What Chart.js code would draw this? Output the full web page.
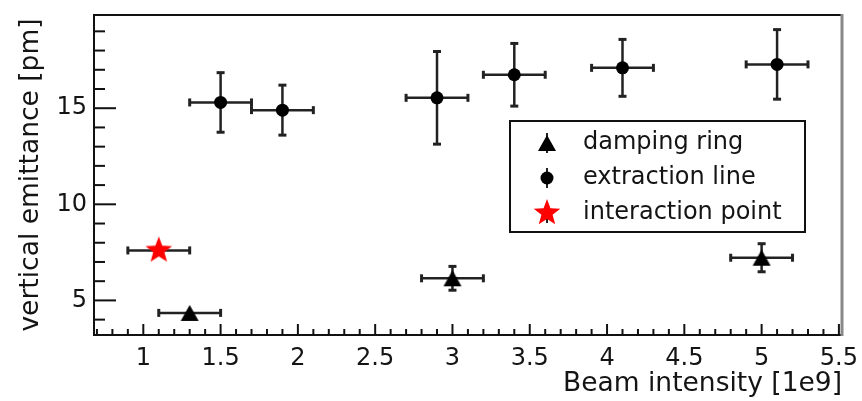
<!DOCTYPE html>
<html>
<head>
<meta charset="utf-8">
<script src="https://cdn.jsdelivr.net/npm/chart.js@4.4.1/dist/chart.umd.min.js"></script>
<style>
html, body { margin: 0; padding: 0; background: #fff; }
canvas { display: block; }
</style>
</head>
<body>
<canvas id="chart" width="862" height="401"></canvas>
<script>
// Damping ring
const drX = [1.3, 3.0, 5.0];
const drY = [4.35, 6.15, 7.22];
const drEX = [0.2, 0.2, 0.2];
const drEY = [0.15, 0.62, 0.73];

// Extraction line
const elX = [1.5, 1.9, 2.9, 3.4, 4.1, 5.1];
const elY = [15.3, 14.9, 15.54, 16.74, 17.1, 17.28];
const elEX = [0.2, 0.2, 0.2, 0.2, 0.2, 0.2];
const elEY = [1.55, 1.3, 2.41, 1.63, 1.48, 1.81];

// Interaction point
const ipX = [1.1];
const ipY = [7.6];
const ipEX = [0.2];
const ipEY = [0.3];

const seriesLabels = ['damping ring', 'extraction line', 'interaction point'];

// Axis ranges and tick steps
const xRange = [0.681, 5.52];
const yRange = [3.2, 19.85];
const xMajorStep = 0.5, xMinorStep = 0.1;
const yMajorStep = 5, yMinorStep = 1;

const FONT = '"DejaVu Sans", sans-serif';
const INK = '#141414';

// marker bitmaps
function makeTriangle(w, h, color) {
    const c = document.createElement('canvas');
    c.width = w + 2; c.height = h + 2;
    const g = c.getContext('2d');
    g.fillStyle = color;
    g.beginPath();
    g.moveTo(c.width / 2, 1);
    g.lineTo(c.width - 1, h + 1);
    g.lineTo(1, h + 1);
    g.closePath();
    g.fill();
    return c;
}

function makeStar(r, color) {
    const size = Math.ceil(2 * r + 2);
    const c = document.createElement('canvas');
    c.width = size; c.height = size;
    const g = c.getContext('2d');
    g.fillStyle = color;
    g.beginPath();
    for (let i = 0; i < 10; i++) {
        const a = -Math.PI / 2 + i * Math.PI / 5;
        const rr = i % 2 ? r * 0.42 : r;
        const px = size / 2 + rr * Math.cos(a), py = size / 2 + rr * Math.sin(a);
        if (i === 0) g.moveTo(px, py); else g.lineTo(px, py);
    }
    g.closePath();
    g.fill();
    return c;
}

const triMarker = makeTriangle(18, 16, '#000');
const starMarker = makeStar(14, '#ff0000');

function points(xs, ys) {
    return xs.map((x, i) => ({ x: x, y: ys[i] }));
}

function line(ctx, x0, y0, x1, y1) {
    ctx.beginPath();
    ctx.moveTo(x0, y0);
    ctx.lineTo(x1, y1);
    ctx.stroke();
}

// error bars with end caps, under the markers
const errorBars = {
    id: 'errorBars',
    beforeDatasetsDraw(chart) {
        const { ctx, scales: { x, y } } = chart;
        ctx.save();
        ctx.strokeStyle = '#222';
        chart.data.datasets.forEach(ds => {
            ds.data.forEach((p, i) => {
                const px = x.getPixelForValue(p.x), py = y.getPixelForValue(p.y);
                const xl = x.getPixelForValue(p.x - ds.errX[i]);
                const xr = x.getPixelForValue(p.x + ds.errX[i]);
                const yt = y.getPixelForValue(p.y + ds.errY[i]);
                const yb = y.getPixelForValue(p.y - ds.errY[i]);
                ctx.lineWidth = 2.5;
                line(ctx, xl, py, xr, py);
                if (py - yt > 9) line(ctx, px, yt, px, yb);
                ctx.lineWidth = 3;
                line(ctx, xl, py - 4, xl, py + 4);
                line(ctx, xr, py - 4, xr, py + 4);
                if (py - yt > 9) {
                    line(ctx, px - 4, yt, px + 4, yt);
                    line(ctx, px - 4, yb, px + 4, yb);
                }
            });
        });
        ctx.restore();
    }
};

// frame with inward ticks
const frameAxes = {
    id: 'frameAxes',
    afterDatasetsDraw(chart) {
        const { ctx, chartArea: a, scales: { x, y } } = chart;
        ctx.save();
        ctx.strokeStyle = '#111';
        ctx.lineWidth = 2;
        const xr = Math.round(xMajorStep / xMinorStep);
        for (let k = Math.ceil(x.min / xMinorStep - 1e-6); k * xMinorStep <= x.max + 1e-6; k++) {
            const px = x.getPixelForValue(k * xMinorStep);
            line(ctx, px, a.bottom, px, a.bottom - (k % xr === 0 ? 11 : 6));
        }
        const yr = Math.round(yMajorStep / yMinorStep);
        for (let k = Math.ceil(y.min / yMinorStep - 1e-6); k * yMinorStep <= y.max + 1e-6; k++) {
            const py = y.getPixelForValue(k * yMinorStep);
            line(ctx, a.left, py, a.left + (k % yr === 0 ? 22 : 11), py);
        }
        line(ctx, a.left, a.top, a.right, a.top);
        line(ctx, a.left, a.top - 1, a.left, a.bottom + 1);
        line(ctx, a.left - 1, a.bottom, a.right + 1, a.bottom);
        ctx.strokeStyle = '#888';
        ctx.lineWidth = 3;
        line(ctx, a.right, a.top - 1, a.right, a.bottom + 1);
        ctx.restore();
    }
};

// boxed legend inside the plot
const legendBox = {
    id: 'legendBox',
    afterDraw(chart) {
        const { ctx } = chart;
        const box = { left: 510, top: 121, width: 295, height: 111 };
        ctx.save();
        ctx.fillStyle = '#fff';
        ctx.fillRect(box.left, box.top, box.width, box.height);
        ctx.strokeStyle = '#111';
        ctx.lineWidth = 2;
        ctx.strokeRect(box.left, box.top, box.width, box.height);
        chart.data.datasets.forEach((ds, i) => {
            const cx = box.left + 37, cy = box.top + 22 + i * 35;
            ctx.strokeStyle = '#222';
            ctx.lineWidth = 2;
            line(ctx, cx, cy - 10, cx, cy + 10);
            if (ds.pointStyle === 'circle') {
                ctx.fillStyle = '#000';
                ctx.beginPath();
                ctx.arc(cx, cy, ds.pointRadius, 0, Math.PI * 2);
                ctx.fill();
            } else {
                const img = ds.pointStyle;
                ctx.drawImage(img, cx - img.width / 2, cy - img.height / 2);
            }
            ctx.fillStyle = INK;
            ctx.font = '24px ' + FONT;
            ctx.textBaseline = 'middle';
            ctx.fillText(ds.label, box.left + 73, cy);
        });
        ctx.restore();
    }
};

new Chart(document.getElementById('chart'), {
    type: 'scatter',
    data: {
        datasets: [
            {
                label: seriesLabels[0],
                data: points(drX, drY),
                errX: drEX, errY: drEY,
                pointStyle: triMarker,
                pointRadius: 9
            },
            {
                label: seriesLabels[1],
                data: points(elX, elY),
                errX: elEX, errY: elEY,
                pointStyle: 'circle',
                pointRadius: 6.5,
                backgroundColor: '#000',
                borderWidth: 0
            },
            {
                label: seriesLabels[2],
                data: points(ipX, ipY),
                errX: ipEX, errY: ipEY,
                pointStyle: starMarker,
                pointRadius: 14
            }
        ]
    },
    options: {
        responsive: false,
        animation: false,
        layout: { padding: { left: 0, top: 13, right: 20, bottom: 0 } },
        plugins: {
            legend: { display: false },
            tooltip: { enabled: false }
        },
        scales: {
            x: {
                type: 'linear',
                min: xRange[0],
                max: xRange[1],
                grid: { display: false, drawTicks: false },
                border: { display: false },
                ticks: {
                    stepSize: xMajorStep,
                    includeBounds: false,
                    autoSkip: false,
                    maxRotation: 0,
                    padding: 9,
                    color: INK,
                    font: { family: FONT, size: 24 },
                    callback: v => String(Number(v.toFixed(2)))
                },
                title: {
                    display: true,
                    text: 'Beam intensity [1e9]',
                    align: 'end',
                    color: INK,
                    font: { family: FONT, size: 26.5 },
                    padding: { top: 0, bottom: 1 }
                },
                afterFit(scale) {
                    scale.height = 66;
                    scale.paddingLeft = 0;
                    scale.paddingRight = 0;
                }
            },
            y: {
                type: 'linear',
                min: yRange[0],
                max: yRange[1],
                grid: { display: false, drawTicks: false },
                border: { display: false },
                ticks: {
                    stepSize: yMajorStep,
                    includeBounds: false,
                    padding: 7,
                    color: INK,
                    font: { family: FONT, size: 24 }
                },
                title: {
                    display: true,
                    text: 'vertical emittance [pm]',
                    color: INK,
                    font: { family: FONT, size: 26.5 },
                    padding: { top: 15, bottom: 0 }
                },
                afterFit(scale) {
                    scale.width = 94;
                    scale.paddingTop = 0;
                    scale.paddingBottom = 0;
                }
            }
        }
    },
    plugins: [errorBars, frameAxes, legendBox]
});
</script>
</body>
</html>
